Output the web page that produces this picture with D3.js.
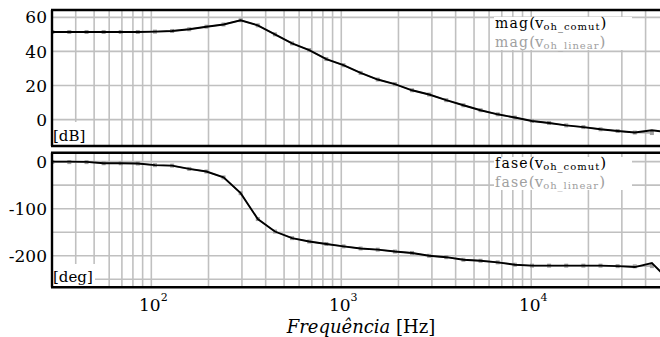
<!DOCTYPE html>
<html>
<head>
<meta charset="utf-8">
<script src="https://cdn.jsdelivr.net/npm/d3@7"></script>
<style>
  body { margin: 0; background: #fff; }
</style>
</head>
<body>
<div id="graph"></div>
<script>
// sample frequencies (Hz)
var freqs = [30.1, 37.0, 45.6, 56.1, 69.0, 84.9, 104.5, 128.7, 158.4, 195.0,
  240.0, 295.3, 363.5, 447.4, 550.7, 677.9, 834.3, 1027, 1264, 1556,
  1915, 2357, 2901, 3571, 4395, 5410, 6659, 8197, 10090, 12419,
  15285, 18814, 23158, 28502, 35083, 43182, 53150];

// magnitude [dB]
var magComut = [51.4, 51.4, 51.4, 51.4, 51.4, 51.4, 51.6, 52.0, 53.0, 54.5,
  55.8, 58.3, 55.3, 50.0, 44.7, 40.8, 35.5, 31.9, 27.4, 23.5,
  20.8, 17.2, 14.7, 11.4, 8.4, 5.5, 3.1, 1.2, -0.8, -2.0,
  -3.4, -4.4, -5.7, -6.7, -7.6, -6.3, -7.5];
var magLinear = [51.4, 51.4, 51.4, 51.4, 51.4, 51.4, 51.6, 52.0, 53.0, 54.5,
  55.8, 58.3, 55.3, 50.0, 44.7, 40.8, 35.5, 31.9, 27.4, 23.5,
  20.8, 17.2, 14.7, 11.4, 8.4, 5.5, 3.1, 1.2, -0.8, -2.0,
  -3.4, -4.4, -5.7, -6.7, -7.6, -7.9];

// phase [deg]
var phaseComut = [0, 0, -0.5, -3.4, -3.4, -4, -7.5, -8.5, -15.5, -21,
  -33.5, -67, -122, -148.5, -162.5, -169.7, -175, -180, -184.5, -187,
  -191, -194, -200, -203, -208.5, -210.6, -214, -219, -221, -221,
  -221, -221, -221, -222, -224, -215.6, -252];
var phaseLinear = [-0.5, -1, -1, -3.4, -3.4, -4, -7.5, -8.5, -15.5, -21,
  -33.5, -67, -122, -148.5, -162.5, -169.7, -175, -180, -184.5, -187,
  -191, -194, -200, -203, -208.5, -210.6, -214, -219, -221, -221,
  -221, -221, -221, -222, -222.5, -222];

var magGrid = [60, 40, 20, 0];
var magLabels = [60, 40, 20, 0];
var phaseGrid = [0, -50, -100, -150, -200, -250];
var phaseLabels = [0, -100, -200];
var decadeLabels = [100, 1000, 10000];

var width = 660;
var height = 337;
var left = 52, right = 664;

var svg = d3.select("#graph").append("svg")
  .attr("width", width)
  .attr("height", height)
  .attr("font-family", "'DejaVu Serif', 'Liberation Serif', serif")
  .style("background", "#fff");

var x = d3.scaleLog()
  .domain([30, 50000])
  .range([left, right]);

function drawPanel(opts) {
  let y = d3.scaleLinear()
    .domain(opts.domain)
    .range([opts.bottom, opts.top]);

  let g = svg.append("g");

  let clipId = "clip-" + opts.name;
  svg.append("clipPath").attr("id", clipId)
    .append("rect")
    .attr("x", left).attr("y", opts.top)
    .attr("width", width - left).attr("height", opts.bottom - opts.top);

  //vertical log grid
  g.append("g").selectAll("line")
    .data(x.ticks())
    .join("line")
    .attr("x1", d => x(d)).attr("x2", d => x(d))
    .attr("y1", opts.top).attr("y2", opts.bottom)
    .attr("stroke", "#c0c0c0")
    .attr("stroke-width", 1.6);

  //horizontal grid
  g.append("g").selectAll("line")
    .data(opts.grid)
    .join("line")
    .attr("x1", left).attr("x2", width)
    .attr("y1", d => y(d)).attr("y2", d => y(d))
    .attr("stroke", "#c0c0c0")
    .attr("stroke-width", 1.6);

  //unit label with white box
  g.append("rect")
    .attr("x", left + 1).attr("y", opts.unitBox[0])
    .attr("width", opts.unitBox[1]).attr("height", opts.bottom - opts.unitBox[0])
    .attr("fill", "#fff");
  g.append("text")
    .attr("x", left + 1).attr("y", opts.bottom - 5)
    .attr("font-size", 15)
    .text(opts.unit);

  let data = g.append("g").attr("clip-path", "url(#" + clipId + ")");

  let line = d3.line()
    .x(function(d) { return x(d[0]); })
    .y(function(d) { return y(d[1]); });

  let lin = opts.linear.map(function(v, i) { return [freqs[i], v]; });
  let com = opts.comut.map(function(v, i) { return [freqs[i], v]; });

  data.append("path")
    .datum(lin)
    .attr("d", line)
    .attr("fill", "none")
    .attr("stroke", "#a8a8a8")
    .attr("stroke-width", 1.5);
  data.append("g").selectAll("rect")
    .data(lin)
    .join("rect")
    .attr("x", d => x(d[0]) - 2).attr("y", d => y(d[1]) - 2)
    .attr("width", 4).attr("height", 4)
    .attr("fill", "#a0a0a0");
  data.append("path")
    .datum(com)
    .attr("d", line)
    .attr("fill", "none")
    .attr("stroke", "#000")
    .attr("stroke-width", 1.9);

  //legend
  let lg = g.append("g");
  lg.append("rect")
    .attr("x", 494).attr("y", opts.legendTop)
    .attr("width", 138).attr("height", 33)
    .attr("fill", "#fff");
  let entries = [
    { sub: "oh_comut", color: "#000", dy: 0 },
    { sub: "oh_linear", color: "#a0a0a0", dy: 19 }
  ];
  entries.forEach(function(e) {
    let t = lg.append("text")
      .attr("x", 495)
      .attr("y", opts.legendBase + e.dy)
      .attr("fill", e.color)
      .attr("font-size", 14);
    t.append("tspan").attr("letter-spacing", 1.2).text(opts.fn);
    t.append("tspan").attr("font-size", 15).text("(");
    t.append("tspan").attr("font-size", 15).text("v");
    t.append("tspan").attr("font-size", 10).attr("dy", 2)
      .attr("letter-spacing", 1).text(e.sub);
    t.append("tspan").attr("font-size", 15).attr("dy", -2).text(")");
  });

  //y labels
  g.append("g").selectAll("text")
    .data(opts.labels)
    .join("text")
    .attr("x", 47)
    .attr("y", d => y(d))
    .attr("dy", "0.36em")
    .attr("text-anchor", "end")
    .attr("font-size", 17)
    .text(d => String(d));

  //frame
  g.append("line").attr("x1", left - 1).attr("x2", width)
    .attr("y1", opts.top).attr("y2", opts.top)
    .attr("stroke", "#000").attr("stroke-width", 2.4);
  g.append("line").attr("x1", left - 1).attr("x2", width)
    .attr("y1", opts.bottom).attr("y2", opts.bottom)
    .attr("stroke", "#000").attr("stroke-width", 2.4);
  g.append("line").attr("x1", left).attr("x2", left)
    .attr("y1", opts.top).attr("y2", opts.bottom)
    .attr("stroke", "#000").attr("stroke-width", 2.4);

  return y;
}

drawPanel({
  name: "mag", top: 10, bottom: 146, domain: [-15.5, 64.3],
  grid: magGrid, labels: magLabels, unit: "[dB]", unitBox: [122, 35],
  comut: magComut, linear: magLinear, fn: "mag",
  legendTop: 17, legendBase: 28
});

drawPanel({
  name: "phase", top: 152.7, bottom: 287.3, domain: [-267, 19],
  grid: phaseGrid, labels: phaseLabels, unit: "[deg]", unitBox: [264, 42],
  comut: phaseComut, linear: phaseLinear, fn: "fase",
  legendTop: 157, legendBase: 168
});

//x labels
var xl = svg.append("g").selectAll("text")
  .data(decadeLabels)
  .join("text")
  .attr("x", d => x(d) + 2)
  .attr("y", 311)
  .attr("text-anchor", "middle")
  .attr("font-size", 17);
xl.append("tspan").text("10");
xl.append("tspan")
  .attr("font-size", 11)
  .attr("dy", -10)
  .text(d => Math.round(Math.log10(d)));

var title = svg.append("text")
  .attr("x", 361)
  .attr("y", 333)
  .attr("text-anchor", "middle")
  .attr("font-size", 18);
title.append("tspan").attr("font-style", "italic").text("Frequência ");
title.append("tspan").text("[Hz]");
</script>
</body>
</html>
